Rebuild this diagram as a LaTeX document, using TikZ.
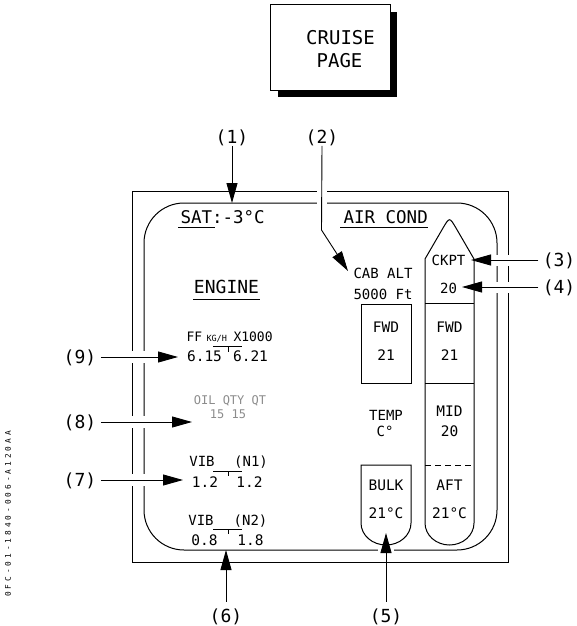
\documentclass[tikz,border=0pt]{standalone}
\usepackage{fontspec}
\setmainfont{DejaVu Sans Mono}
\newfontfamily\codefont[LetterSpace=38]{DejaVu Sans Mono}
\usetikzlibrary{arrows.meta}
\begin{document}
\begin{tikzpicture}[x=1pt,y=-1pt, line width=1pt,
  txt/.style={inner sep=0pt, anchor=base},
  fs/.style={font=\fontsize{#1pt}{#1pt}\selectfont},
  leader/.style={line width=0.9pt, -{Triangle[length=20pt,width=11pt]}},
  halo/.style={white, line width=#1},
  faded/.style={text=black!45},
]
\useasboundingbox (0,0) rectangle (576,626);

% ---- CRUISE PAGE box with shadow
\fill (278,12) rectangle (397,97);
\filldraw[fill=white] (270,5) rectangle (390,90);
\node[txt,fs=19] (cruise) at (340.5,45) {CRUISE};
\node[txt,fs=19] (page) at (339.5,67) {PAGE};

% ---- display borders
\draw (132,191) rectangle (508,562);
\draw[rounded corners=40] (144,203) rectangle (497,550);

% ---- headings
\node[txt,fs=17.5,anchor=base west] (sat) at (180,223.5) {SAT:-3°C};
\draw (178,227) -- (215,227);
\node[txt,fs=17.5,anchor=base west] (aircond) at (343,223.5) {AIR COND};
\draw (340,227) -- (428,227);
\node[txt,fs=18] (engine) at (226.5,293.3) {ENGINE};
\draw (193,299) -- (260,299);

% ---- engine values
\node[txt,fs=13,anchor=base west] (ff) at (186,341) {FF};
\node[txt,fs=8.5,anchor=base west] (kgh) at (206,341) {KG/H};
\node[txt,fs=13,anchor=base west] (x1000) at (233,341) {X1000};
\node[txt,fs=14.5] (ffa) at (204.5,361.7) {6.15};
\node[txt,fs=14.5] (ffb) at (250.5,361.7) {6.21};
\draw (213,346) -- (242,346) (228,346) -- (228,351.5);

\node[txt,fs=12,faded] (oil) at (230,404.5) {OIL QTY QT};
\node[txt,fs=12,faded] (oilv) at (228,418) {15 15};

\node[txt,fs=14] (vib1) at (202,466) {VIB};
\node[txt,fs=14] (n1) at (251,466) {(N1)};
\node[txt,fs=14.5] (v1a) at (205,487.3) {1.2};
\node[txt,fs=14.5] (v1b) at (249.5,487.3) {1.2};
\draw (213,471) -- (242,471) (228,471) -- (228,476);

\node[txt,fs=14] (vib2) at (201,525) {VIB};
\node[txt,fs=14] (n2) at (250.5,525) {(N2)};
\node[txt,fs=14.5] (v2a) at (204.5,545.7) {0.8};
\node[txt,fs=14.5] (v2b) at (250.5,545.7) {1.8};
\draw (213,529) -- (242,529) (228,529) -- (228,534);

% ---- air conditioning
\node[txt,fs=14,anchor=base west] (cabalt) at (353,278.3) {CAB ALT};
\node[txt,fs=14,anchor=base west] (cabv) at (353,299.3) {5000 Ft};

\draw (361,304) rectangle (411,383);
\node[txt,fs=14.5] (fwdl) at (386,332) {FWD};
\node[txt,fs=14.5] (fwdlv) at (386,360.7) {21};

\node[txt,fs=14] (temp) at (386,420) {TEMP};
\node[txt,fs=14] (tempu) at (385,436) {C°};

\draw (361,465) -- (361,523) .. controls (361,535.1) and (372.2,545) .. (386,545)
      .. controls (399.8,545) and (411,535.1) .. (411,523) -- (411,465) -- cycle;
\node[txt,fs=14.5] (bulk) at (386,490) {BULK};
\node[txt,fs=14.5] (bulkv) at (386,518.3) {21°C};

\draw (425,259) -- (425,523) .. controls (425,535.1) and (436,545) .. (449.5,545)
      .. controls (463,545) and (474,535.1) .. (474,523) -- (474,259)
      -- (456,228) .. controls (449.5,217) .. (443,228) -- cycle;
\draw (425,303) -- (474,303);
\draw (425,383) -- (474,383);
\draw[dash pattern=on 6pt off 4pt] (425,465) -- (474,465);
\node[txt,fs=14] (ckpt) at (448.5,265) {CKPT};
\node[txt,fs=14] (ckptv) at (448.5,293.3) {20};
\node[txt,fs=14.5] (fwdr) at (449.5,332) {FWD};
\node[txt,fs=14.5] (fwdrv) at (449.5,360.7) {21};
\node[txt,fs=14.5] (mid) at (449.5,416) {MID};
\node[txt,fs=14.5] (midv) at (449.5,436.7) {20};
\node[txt,fs=14.5] (aft) at (449.5,490) {AFT};
\node[txt,fs=14.5] (aftv) at (449.5,518.3) {21°C};

% ---- callout labels
\node[txt,fs=18] (l1) at (232,143) {(1)};
\node[txt,fs=18] (l2) at (322,143) {(2)};
\node[txt,fs=18] (l3) at (559,266) {(3)};
\node[txt,fs=18] (l4) at (559,293) {(4)};
\node[txt,fs=18] (l5) at (386,622) {(5)};
\node[txt,fs=18] (l6) at (226,622) {(6)};
\node[txt,fs=18] (l7) at (80,486) {(7)};
\node[txt,fs=18] (l8) at (80,428) {(8)};
\node[txt,fs=18] (l9) at (80,363) {(9)};

\coordinate (t1) at (232,203);
\coordinate (b2) at (321.5,230);
\coordinate (t2) at (348,271);
\coordinate (t3) at (471,260);
\coordinate (t4) at (462,287);
\coordinate (t5) at (386,533);
\coordinate (t6) at (226,550);
\coordinate (t7) at (183,480);
\coordinate (t8) at (192,422);
\coordinate (t9) at (178,357);

% ---- gaps where leaders cross borders
\draw[halo=10] (321.5,185) -- (321.5,209);
\draw[halo=11] (490,260) -- (515,260);
\draw[halo=11] (490,287) -- (515,287);
\draw[halo=12] (125,357) -- (151,357);
\draw[halo=12] (125,422) -- (151,422);
\draw[halo=12] (125,480) -- (151,480);
\draw[halo=16] (386,547) -- (386,554);

% ---- leaders
\draw[leader] (l1.south) -- (t1);
\draw[leader] (l2.south) -- (b2) -- (t2);
\draw[leader] ([xshift=-4pt]l3.west |- t3) -- (t3);
\draw[leader] ([xshift=-4pt]l4.west |- t4) -- (t4);
\draw[leader, shorten <=6pt] (l5.north) -- (t5);
\draw[leader, shorten <=6pt] (l6.north) -- (t6);
\draw[leader] ([xshift=4pt]l7.east |- t7) -- (t7);
\draw[leader] ([xshift=4pt]l8.east |- t8) -- (t8);
\draw[leader] ([xshift=4pt]l9.east |- t9) -- (t9);

% ---- reference code
\node[inner sep=0pt, rotate=90, font=\codefont\fontsize{7.8pt}{7.8pt}\selectfont] (code) at (8,514) {0FC-01-1840-006-A120AA};
\end{tikzpicture}
\end{document}
